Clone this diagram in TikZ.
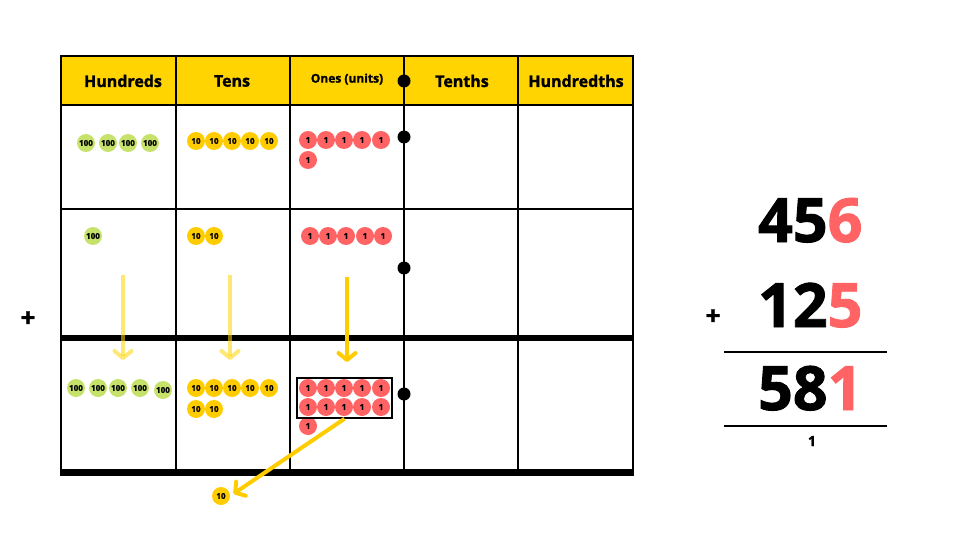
\documentclass[tikz,border=0pt]{standalone}
\usepackage{fontspec}
\setmainfont{Open Sans}[BoldFeatures={FakeBold=1.5}]
\usetikzlibrary{arrows.meta}
\definecolor{headyellow}{HTML}{FFD400}
\definecolor{cgreen}{HTML}{C6E26A}
\definecolor{cyellow}{HTML}{FFCC00}
\definecolor{cred}{HTML}{FF6363}
\tikzset{
  counter/.style={circle, minimum size=18pt, inner sep=0pt, font=\bfseries\fontsize{8}{8}\selectfont},
  hund/.style={counter, fill=cgreen},
  ten/.style={counter, fill=cyellow},
  one/.style={counter, fill=cred},
  head/.style={font=\bfseries\fontsize{16}{16}\selectfont},
  bigsum/.style={font=\bfseries\fontsize{61}{61}\selectfont, anchor=base east},
  decdot/.style={circle, fill=black, minimum size=13pt, inner sep=0pt},
  movearrow/.style={line width=4pt, -{Straight Barb[length=7pt,width=17pt,round]}},
}
\begin{document}
\begin{tikzpicture}[x=1pt, y=-1pt]
    \useasboundingbox (0,0) rectangle (980,551);

    % Header
    \fill[headyellow] (61,56) rectangle (633,105);
    \node[head] (hhund) at (123,81) {Hundreds};
    \node[head] (htens) at (232,81) {Tens};
    \node[font=\bfseries\fontsize{12}{12}\selectfont] (hones) at (347,79) {Ones (units)};
    \node[head] (htenths) at (462,81) {Tenths};
    \node[head] (hhundths) at (576,81) {Hundredths};

    % Grid
    \foreach \x in {61, 176, 290, 404, 518, 633} {
        \draw[line width=2.5pt] (\x,56) -- (\x,472);
    }
    \foreach \y in {56, 105, 209} {
        \draw[line width=2.5pt] (59.75,\y) -- (634.25,\y);
    }
    \draw[line width=6pt] (59.75,338) -- (634.25,338);
    \draw[line width=7pt] (59.75,472) -- (634.25,472);

    % Decimal point
    \foreach \y [count=\k] in {81, 137, 268, 394} {
        \node[decdot] (dot\k) at (404,\y) {};
    }

    % First number
    \foreach \x [count=\k] in {86, 108, 128, 150} {
        \node[hund] (a-h\k) at (\x,143) {100};
    }
    \foreach \x [count=\k] in {196, 214, 232, 250, 269} {
        \node[ten] (a-t\k) at (\x,141) {10};
    }
    \foreach \x [count=\k] in {308, 326, 344, 362, 381} {
        \node[one] (a-o\k) at (\x,140) {1};
    }
    \node[one] (a-o6) at (308,160) {1};

    % Second number
    \node[hund] (b-h1) at (93,236) {100};
    \node[ten] (b-t1) at (196,236) {10};
    \node[ten] (b-t2) at (214,236) {10};
    \foreach \x [count=\k] in {310, 328, 346, 365, 383} {
        \node[one] (b-o\k) at (\x,236) {1};
    }

    % Sum
    \foreach \x [count=\k] in {76, 98, 118, 140} {
        \node[hund] (c-h\k) at (\x,388) {100};
    }
    \node[hund] (c-h5) at (163,390) {100};
    \foreach \x [count=\k] in {196, 214, 232, 250, 269} {
        \node[ten] (c-t\k) at (\x,388) {10};
    }
    \node[ten] (c-t6) at (196,409) {10};
    \node[ten] (c-t7) at (214,409) {10};
    \foreach \x [count=\k] in {308, 326, 344, 362, 381} {
        \node[one] (c-o\k) at (\x,388) {1};
        \node[one] (c-p\k) at (\x,407) {1};
    }
    \node[one] (c-o11) at (308,426) {1};
    \node[draw, line width=1.5pt, minimum width=95pt, minimum height=40pt, inner sep=0pt] (tenbox) at (344.5,398) {};

    % Arrows down
    \coordinate (hs) at (123,275);
    \coordinate (he) at (123,360);
    \coordinate (ts) at (230,275);
    \coordinate (te) at (230,360);
    \coordinate (os) at (347,277);
    \coordinate (oe) at (347,362);
    \draw[movearrow, headyellow, draw opacity=0.55] (hs) -- (he);
    \draw[movearrow, headyellow, draw opacity=0.55] (ts) -- (te);
    \draw[movearrow, cyellow] (os) -- (oe);

    % Exchange
    \node[ten] (newten) at (221,496) {10};
    \draw[movearrow, cyellow, shorten >=4pt] (tenbox.south) -- (newten.east);

    % Plus signs
    \node[font=\bfseries\fontsize{26}{26}\selectfont] (plusl) at (28,319) {+};
    \node[font=\bfseries\fontsize{26}{26}\selectfont] (plusr) at (713,317) {+};

    % Column addition
    \node[bigsum] (numa) at (866,242) {45\textcolor{cred}{6}};
    \node[bigsum] (numb) at (866,327) {12\textcolor{cred}{5}};
    \node[bigsum] (numc) at (866,410) {58\textcolor{cred}{1}};
    \coordinate (la) at (724,352);
    \coordinate (lb) at (887,352);
    \coordinate (lc) at (724,426);
    \coordinate (ld) at (887,426);
    \draw[line width=2pt] (la) -- (lb);
    \draw[line width=2pt] (lc) -- (ld);
    \node[font=\bfseries\fontsize{14}{14}\selectfont] (carry) at (812,441) {1};
\end{tikzpicture}
\end{document}
